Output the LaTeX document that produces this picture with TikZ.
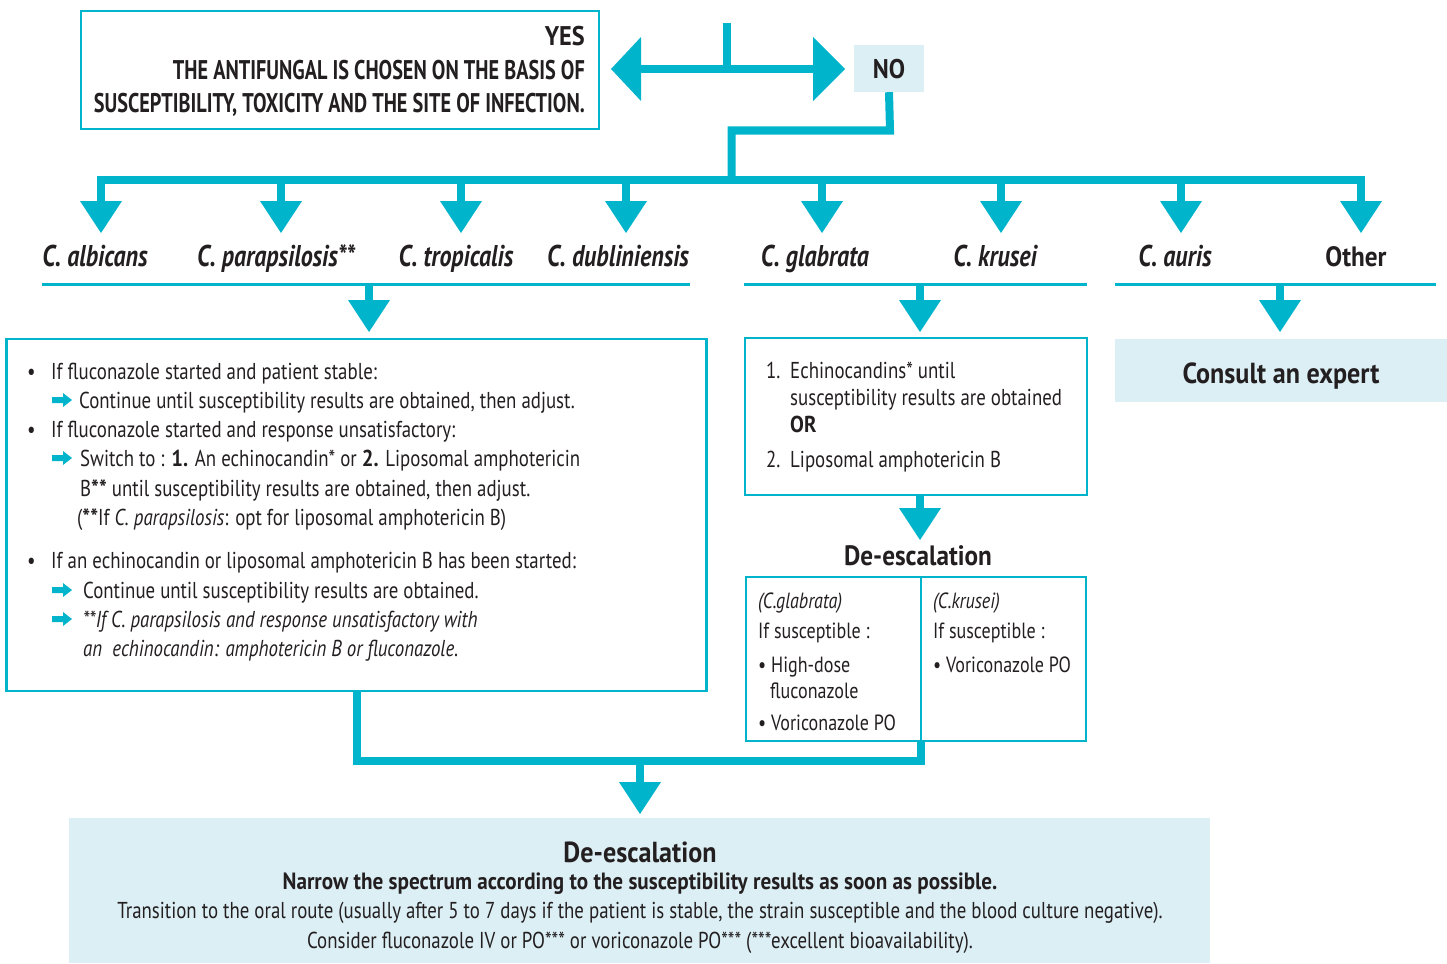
\documentclass[tikz,border=0pt]{standalone}
\usepackage{fontspec}
\setmainfont{PT Sans}[FakeStretch=0.82,BoldFeatures={FakeStretch=0.9},BoldItalicFeatures={FakeStretch=0.8}]
\newfontfamily\capsfont{PT Sans}[FakeStretch=0.75]
\definecolor{cy}{HTML}{00B4CC}
\definecolor{lb}{HTML}{DCEFF5}
\definecolor{tx}{HTML}{231F20}
\newcommand\tri[1]{\fill[cy] (#1) -- ++(-21,-32) -- ++(42,0) -- cycle;}
\newcommand\farr[1]{\fill[cy] (#1) ++(0,-3) -- ++(11,0) -- ++(0,-4) -- ++(9,7) -- ++(-9,7) -- ++(0,-4) -- ++(-11,0) -- cycle;}
\begin{document}
\begin{tikzpicture}[x=1pt,y=-1pt,
 bus/.style={cy,line width=8pt,line join=miter},
 uline/.style={cy,line width=3pt},
 frame/.style={draw=cy,line width=2.5pt,inner sep=0pt},
 fillbox/.style={fill=lb,inner sep=0pt},
 ln/.style={anchor=base west,inner sep=0pt,text=tx,font=\fontsize{23}{29}\selectfont},
 lnc/.style={anchor=base,inner sep=0pt,text=tx},
 lne/.style={anchor=base east,inner sep=0pt,text=tx,font=\capsfont\bfseries\fontsize{27}{30}\selectfont},
 sp/.style={anchor=base,inner sep=0pt,text=tx,font=\bfseries\itshape\fontsize{30}{30}\selectfont},
 sm/.style={anchor=base west,inner sep=0pt,text=tx,font=\fontsize{22}{26}\selectfont}
]
\useasboundingbox (0,0) rectangle (1447,963);
% boxes
\node[frame,minimum width=518pt,minimum height=118pt] (yes) at (340,70) {};
\node[fillbox,minimum width=70pt,minimum height=47pt] (no) at (889,68.5) {};
\node[frame,minimum width=700pt,minimum height=352pt] (left) at (356.5,515) {};
\node[frame,minimum width=342pt,minimum height=157pt] (mid) at (916,416.5) {};
\node[fillbox,minimum width=332pt,minimum height=63pt] (consult) at (1281,370.5) {};
\node[frame,minimum width=340pt,minimum height=164pt] (split) at (916,659) {};
\draw[cy,line width=2.5pt] (split.north) ++(5,0) coordinate (dv1) -- (dv1 |- split.south);
\node[fillbox,minimum width=1141pt,minimum height=145pt] (bottom) at (639.5,890.5) {};

% YES text
\node[lnc,anchor=base east,font=\bfseries\fontsize{27}{30}\selectfont] (yest) at (585,46) {YES};
\node[lne] (yes2) at (585,80) {THE ANTIFUNGAL IS CHOSEN ON THE BASIS OF};
\node[lne] (yes3) at (585,113) {SUSCEPTIBILITY, TOXICITY AND THE SITE OF INFECTION.};
\node[lnc,font=\bfseries\fontsize{27}{30}\selectfont] (not) at (889,79) {NO};

% double arrow
\coordinate (top) at (727,23);
\coordinate (dmid) at (727,69);
\draw[bus] (top) -- (dmid);
\draw[bus] (639,69) -- (815,69);
\fill[cy] (611,69) -- (641,37) -- (641,101) -- cycle;
\fill[cy] (845,69) -- (813,37) -- (813,101) -- cycle;

% NO to bus
\coordinate (j) at (731.5,180);
\draw[bus] (no.south) -- (890,130.5) -| (j);
\draw[bus] (97,180) -- (1365,180);
\foreach \x [count=\i] in {101,281,461,626,822,1001,1181,1361}{
  \coordinate (s\i) at (\x,180);
  \coordinate (h\i) at (\x,233);
  \draw[bus] (s\i) -- ++(0,26);
  \tri{h\i}
}

% species
\node[sp] (c1) at (95,266) {C. albicans};
\node[sp] (c2) at (276,266) {C. parapsilosis**};
\node[sp] (c3) at (456,266) {C. tropicalis};
\node[sp] (c4) at (618,266) {C. dubliniensis};
\node[sp] (c5) at (815,266) {C. glabrata};
\node[sp] (c6) at (995,266) {C. krusei};
\node[sp] (c7) at (1175,266) {C. auris};
\node[sp,font=\bfseries\fontsize{28}{30}\selectfont] (c8) at (1356,266) {Other};

% underlines and arrows
\draw[uline] (42,284) -- (690,284);
\draw[uline] (744,284) -- (1087,284);
\draw[uline] (1115,284) -- (1436,284);
\foreach \x [count=\i] in {369,920,1280}{
  \coordinate (u\i) at (\x,284);
  \coordinate (v\i) at (\x,332);
  \draw[bus] (u\i) -- ++(0,20);
  \tri{v\i}
}

% left box text
\foreach \y/\n in {379/b1,437/b2,568/b3}{\node[ln] (\n) at (27,\y) {•};}
\foreach \y/\n in {400/a1,458/a2,590/a3,619/a4}{\coordinate (\n) at (52,\y); \farr{\n}}
\node[ln] (l1) at (51,379) {If fluconazole started and patient stable:};
\node[ln] (l2) at (79,408) {Continue until susceptibility results are obtained, then adjust.};
\node[ln] (l3) at (51,437) {If fluconazole started and response unsatisfactory:};
\node[ln] (l4) at (80,466) {Switch to : \textbf{1.} An echinocandin* or \textbf{2.} Liposomal amphotericin};
\node[ln] (l5) at (80,496) {B\textbf{**} until susceptibility results are obtained, then adjust.};
\node[ln] (l6) at (77,525) {(\textbf{**}If \textit{C. parapsilosis}: opt for liposomal amphotericin B)};
\node[ln] (l7) at (51,568) {If an echinocandin or liposomal amphotericin B has been started:};
\node[ln] (l8) at (83,598) {Continue until susceptibility results are obtained.};
\node[ln,font=\itshape\fontsize{23}{29}\selectfont] (l9) at (83,627) {**If C. parapsilosis and response unsatisfactory with};
\node[ln,font=\itshape\fontsize{23}{29}\selectfont] (l10) at (83,656) {an\ \ echinocandin: amphotericin B or fluconazole.};

% middle box text
\node[ln] (m0) at (766,378) {1.};
\node[ln] (m1) at (790,378) {Echinocandins* until};
\node[ln] (m2) at (790,405) {susceptibility results are obtained};
\node[ln,font=\bfseries\fontsize{23}{29}\selectfont] (m3) at (790,432) {OR};
\node[ln] (m4) at (766,467) {2.};
\node[ln] (m5) at (790,467) {Liposomal amphotericin B};

% middle arrow and de-escalation
\coordinate (mb) at (920,495);
\coordinate (mt) at (920,540);
\draw[bus] (mb) -- ++(0,16);
\tri{mt}
\node[lnc,font=\bfseries\fontsize{28}{30}\selectfont] (de1) at (918,565) {De-escalation};

% split box
\node[sm,font=\itshape\fontsize{22}{26}\selectfont] (g1) at (758,608) {(C.glabrata)};
\node[sm] (g2) at (758,638) {If susceptible :};
\node[sm] (g3) at (758,672) {• High-dose};
\node[sm] (g4) at (770,698) {fluconazole};
\node[sm] (g5) at (758,730) {• Voriconazole PO};
\node[sm,font=\itshape\fontsize{22}{26}\selectfont] (k1) at (933,608) {(C.krusei)};
\node[sm] (k2) at (933,638) {If susceptible :};
\node[sm] (k3) at (933,672) {• Voriconazole PO};

% consult
\node[lnc,font=\bfseries\fontsize{29}{30}\selectfont] (ct) at (1281,383) {Consult an expert};

% bottom connectors
\coordinate (lb) at (357,691);
\coordinate (sb) at (921,741);
\coordinate (bt) at (640,761);
\coordinate (bh) at (640,814);
\draw[bus] (lb) |- (bt) -| (sb);
\draw[bus] (bt) -- ++(0,24);
\tri{bh}

% bottom text
\node[lnc,font=\bfseries\fontsize{29}{30}\selectfont] (de2) at (640,862) {De-escalation};
\node[lnc,font=\bfseries\fontsize{23.5}{26}\selectfont] (n1) at (640,889) {Narrow the spectrum according to the susceptibility results as soon as possible.};
\node[lnc,font=\fontsize{23}{26}\selectfont] (n2) at (640,918) {Transition to the oral route (usually after 5 to 7 days if the patient is stable, the strain susceptible and the blood culture negative).};
\node[lnc,font=\fontsize{23}{26}\selectfont] (n3) at (640,948) {Consider fluconazole IV or PO*** or voriconazole PO*** (***excellent bioavailability).};
\end{tikzpicture}
\end{document}
